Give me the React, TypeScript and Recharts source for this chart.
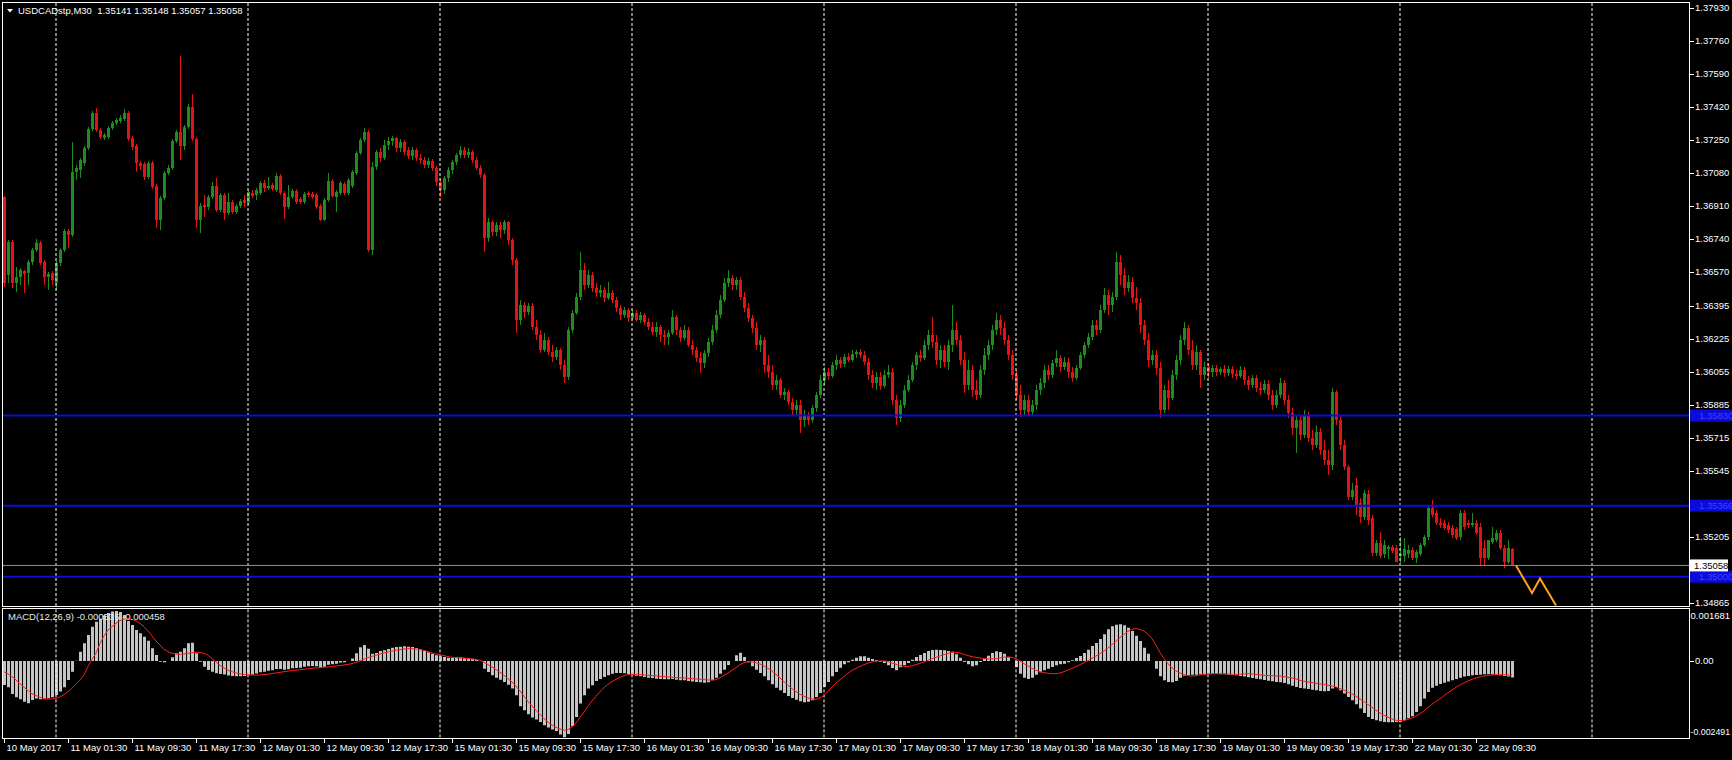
import React from "react";
import { ComposedChart, Bar, Line, XAxis, YAxis, ReferenceLine } from "recharts";

// USDCADstp M30 candles, bar 0 = 10 May 2017 17:30
const opens = [
  1.36955,1.36554,1.36724,1.36512,1.36543,1.36574,1.36564,1.36621,1.36683,1.36719,
  1.36621,1.36543,1.36564,1.36512,1.36616,1.36683,1.36780,1.36760,1.37084,1.37095,
  1.37131,1.37208,1.37306,1.37388,1.37300,1.37259,1.37264,1.37311,1.37337,1.37347,
  1.37357,1.37388,1.37259,1.37218,1.37131,1.37125,1.37058,1.37131,1.37012,1.36837,
  1.36950,1.37079,1.37105,1.37244,1.37290,1.37218,1.37316,1.37419,1.37254,1.36837,
  1.36914,1.36904,1.36955,1.37012,1.36889,1.36966,1.36873,1.36930,1.36878,1.36909,
  1.36940,1.36925,1.36976,1.36966,1.36976,1.37028,1.37002,1.37017,1.36992,1.37064,
  1.36976,1.36904,1.36955,1.36986,1.36945,1.36930,1.36976,1.36971,1.36966,1.36909,
  1.36837,1.36940,1.37038,1.36955,1.36976,1.37022,1.36976,1.37012,1.37079,1.37182,
  1.37249,1.37290,1.36683,1.37110,1.37187,1.37156,1.37223,1.37244,1.37259,1.37208,
  1.37239,1.37198,1.37167,1.37198,1.37156,1.37146,1.37120,1.37141,1.37105,1.37033,
  1.36992,1.37053,1.37095,1.37136,1.37172,1.37198,1.37172,1.37187,1.37146,1.37105,
  1.37069,1.36744,1.36827,1.36775,1.36811,1.36786,1.36827,1.36734,1.36631,1.36322,
  1.36399,1.36363,1.36394,1.36286,1.36245,1.36168,1.36219,1.36157,1.36131,1.36168,
  1.36090,1.36028,1.36271,1.36358,1.36440,1.36580,1.36502,1.36554,1.36487,1.36461,
  1.36477,1.36435,1.36461,1.36425,1.36384,1.36348,1.36374,1.36332,1.36358,1.36322,
  1.36348,1.36312,1.36286,1.36260,1.36286,1.36245,1.36234,1.36255,1.36337,1.36271,
  1.36229,1.36271,1.36193,1.36168,1.36126,1.36101,1.36152,1.36209,1.36271,1.36348,
  1.36425,1.36512,1.36538,1.36502,1.36528,1.36440,1.36384,1.36332,1.36281,1.36193,
  1.36219,1.36090,1.36054,1.35987,1.36013,1.35936,1.35951,1.35900,1.35859,1.35884,
  1.35807,1.35833,1.35807,1.35869,1.35936,1.36013,1.36054,1.36034,1.36090,1.36116,
  1.36095,1.36131,1.36116,1.36147,1.36157,1.36142,1.36106,1.36039,1.35998,1.36028,
  1.35982,1.36039,1.36054,1.35910,1.35817,1.35884,1.35962,1.36013,1.36090,1.36142,
  1.36126,1.36193,1.36245,1.36209,1.36116,1.36168,1.36106,1.36193,1.36271,1.36219,
  1.36116,1.35987,1.36065,1.35962,1.35936,1.36065,1.36142,1.36193,1.36271,1.36322,
  1.36281,1.36219,1.36142,1.36039,1.35936,1.35859,1.35910,1.35848,1.35884,1.35962,
  1.35998,1.36065,1.36039,1.36101,1.36126,1.36080,1.36106,1.36054,1.36023,1.36075,
  1.36142,1.36193,1.36234,1.36296,1.36271,1.36374,1.36451,1.36399,1.36440,1.36621,
  1.36554,1.36487,1.36518,1.36435,1.36410,1.36296,1.36219,1.36116,1.36142,1.36075,
  1.35859,1.35962,1.35920,1.36039,1.36116,1.36219,1.36281,1.36168,1.36090,1.36157,
  1.36039,1.36080,1.36054,1.36075,1.36054,1.36070,1.36049,1.36070,1.36044,1.36034,
  1.36065,1.36013,1.35987,1.36023,1.35972,1.35962,1.35992,1.35936,1.35884,1.35936,
  1.35998,1.35910,1.35843,1.35766,1.35807,1.35730,1.35833,1.35714,1.35678,1.35745,
  1.35653,1.35601,1.35575,1.35951,1.35807,1.35678,1.35565,1.35410,1.35472,1.35380,
  1.35308,1.35426,1.35303,1.35122,1.35174,1.35117,1.35143,1.35153,1.35148,1.35107,
  1.35107,1.35117,1.35138,1.35096,1.35117,1.35163,1.35205,1.35354,1.35328,1.35277,
  1.35277,1.35267,1.35251,1.35246,1.35205,1.35328,1.35277,1.35267,1.35277,1.35256,
  1.35148,1.35096,1.35179,1.35189,1.35225,1.35148,1.35076,1.35141,
];

const highs = [
  1.36961,1.36734,1.36734,1.36595,1.36590,1.36580,1.36631,1.36693,1.36739,1.36729,
  1.36631,1.36569,1.36574,1.36626,1.36693,1.36791,1.36791,1.37239,1.37120,1.37156,
  1.37218,1.37316,1.37398,1.37414,1.37311,1.37285,1.37321,1.37347,1.37362,1.37378,
  1.37409,1.37398,1.37270,1.37228,1.37141,1.37136,1.37141,1.37141,1.37022,1.36961,
  1.37089,1.37120,1.37254,1.37300,1.37682,1.37326,1.37434,1.37486,1.37264,1.36925,
  1.36966,1.36966,1.37033,1.37053,1.36976,1.36976,1.36976,1.36940,1.36919,1.36945,
  1.36966,1.36992,1.36992,1.37002,1.37038,1.37043,1.37058,1.37028,1.37079,1.37074,
  1.36986,1.37017,1.36997,1.36997,1.36955,1.36981,1.36986,1.36981,1.36976,1.36919,
  1.36950,1.37079,1.37048,1.36992,1.37038,1.37033,1.37053,1.37095,1.37192,1.37259,
  1.37311,1.37300,1.37136,1.37198,1.37208,1.37249,1.37264,1.37270,1.37264,1.37254,
  1.37249,1.37213,1.37213,1.37208,1.37177,1.37161,1.37156,1.37151,1.37115,1.37053,
  1.37064,1.37110,1.37146,1.37182,1.37218,1.37213,1.37208,1.37198,1.37161,1.37120,
  1.37079,1.36847,1.36837,1.36827,1.36827,1.36837,1.36832,1.36744,1.36641,1.36425,
  1.36415,1.36410,1.36410,1.36322,1.36271,1.36255,1.36234,1.36193,1.36183,1.36178,
  1.36116,1.36286,1.36374,1.36461,1.36672,1.36616,1.36580,1.36569,1.36512,1.36502,
  1.36492,1.36518,1.36477,1.36440,1.36399,1.36389,1.36384,1.36374,1.36374,1.36363,
  1.36358,1.36332,1.36312,1.36312,1.36296,1.36271,1.36271,1.36374,1.36348,1.36286,
  1.36296,1.36286,1.36219,1.36183,1.36157,1.36168,1.36229,1.36296,1.36374,1.36451,
  1.36538,1.36580,1.36554,1.36543,1.36543,1.36466,1.36410,1.36348,1.36312,1.36245,
  1.36234,1.36142,1.36090,1.36039,1.36023,1.35972,1.35962,1.35920,1.35910,1.35910,
  1.35859,1.35848,1.35884,1.35951,1.36039,1.36080,1.36075,1.36106,1.36142,1.36131,
  1.36147,1.36152,1.36168,1.36168,1.36173,1.36162,1.36126,1.36065,1.36054,1.36054,
  1.36065,1.36090,1.36075,1.35936,1.35910,1.35987,1.36039,1.36106,1.36157,1.36168,
  1.36219,1.36271,1.36337,1.36245,1.36193,1.36193,1.36219,1.36399,1.36312,1.36245,
  1.36157,1.36116,1.36090,1.36013,1.36090,1.36178,1.36219,1.36296,1.36358,1.36348,
  1.36312,1.36245,1.36168,1.36065,1.35987,1.35936,1.35936,1.35910,1.35987,1.36023,
  1.36090,1.36090,1.36116,1.36168,1.36142,1.36131,1.36126,1.36080,1.36090,1.36157,
  1.36209,1.36255,1.36322,1.36322,1.36399,1.36487,1.36477,1.36466,1.36672,1.36657,
  1.36590,1.36554,1.36543,1.36492,1.36435,1.36322,1.36255,1.36168,1.36168,1.36106,
  1.35987,1.36013,1.36065,1.36142,1.36245,1.36312,1.36296,1.36219,1.36193,1.36168,
  1.36106,1.36101,1.36090,1.36090,1.36080,1.36090,1.36085,1.36085,1.36065,1.36085,
  1.36080,1.36034,1.36039,1.36039,1.36003,1.36013,1.36013,1.35962,1.35962,1.36023,
  1.36013,1.35936,1.35869,1.35833,1.35833,1.35859,1.35848,1.35756,1.35781,1.35766,
  1.35704,1.35653,1.35972,1.35962,1.35833,1.35704,1.35575,1.35483,1.35508,1.35405,
  1.35447,1.35447,1.35318,1.35189,1.35230,1.35189,1.35163,1.35163,1.35163,1.35205,
  1.35200,1.35163,1.35153,1.35138,1.35174,1.35215,1.35369,1.35395,1.35344,1.35303,
  1.35292,1.35282,1.35267,1.35256,1.35344,1.35344,1.35292,1.35328,1.35292,1.35277,
  1.35189,1.35189,1.35256,1.35241,1.35241,1.35163,1.35189,1.35148,
];

const lows = [
  1.36492,1.36512,1.36487,1.36466,1.36502,1.36461,1.36502,1.36605,1.36672,1.36605,
  1.36502,1.36477,1.36502,1.36477,1.36600,1.36672,1.36693,1.36750,1.37043,1.37053,
  1.37115,1.37198,1.37295,1.37290,1.37254,1.37249,1.37254,1.37300,1.37326,1.37337,
  1.37347,1.37244,1.37198,1.37084,1.37095,1.37043,1.37048,1.36997,1.36796,1.36786,
  1.36940,1.37069,1.37095,1.37234,1.37146,1.37198,1.37306,1.37244,1.36796,1.36770,
  1.36852,1.36889,1.36945,1.36878,1.36878,1.36837,1.36863,1.36868,1.36868,1.36899,
  1.36904,1.36914,1.36950,1.36940,1.36966,1.36981,1.36992,1.36986,1.36981,1.36966,
  1.36842,1.36894,1.36945,1.36919,1.36919,1.36919,1.36955,1.36945,1.36894,1.36832,
  1.36832,1.36930,1.36950,1.36878,1.36966,1.36966,1.36966,1.37002,1.37069,1.37172,
  1.37239,1.36672,1.36657,1.37095,1.37136,1.37146,1.37198,1.37218,1.37187,1.37187,
  1.37172,1.37151,1.37146,1.37141,1.37125,1.37105,1.37105,1.37089,1.37012,1.36955,
  1.36971,1.37033,1.37074,1.37120,1.37156,1.37156,1.37156,1.37131,1.37095,1.37053,
  1.36672,1.36724,1.36755,1.36755,1.36744,1.36765,1.36708,1.36605,1.36255,1.36296,
  1.36332,1.36348,1.36271,1.36219,1.36152,1.36157,1.36142,1.36106,1.36116,1.36065,
  1.35998,1.36013,1.36255,1.36348,1.36425,1.36477,1.36487,1.36466,1.36440,1.36440,
  1.36415,1.36425,1.36410,1.36363,1.36322,1.36332,1.36312,1.36322,1.36312,1.36307,
  1.36296,1.36271,1.36245,1.36234,1.36209,1.36193,1.36193,1.36245,1.36245,1.36209,
  1.36219,1.36183,1.36142,1.36106,1.36049,1.36075,1.36131,1.36193,1.36255,1.36332,
  1.36415,1.36492,1.36477,1.36477,1.36425,1.36363,1.36312,1.36255,1.36168,1.36157,
  1.36049,1.36023,1.35962,1.35962,1.35920,1.35910,1.35884,1.35833,1.35833,1.35740,
  1.35771,1.35781,1.35792,1.35848,1.35920,1.35987,1.36013,1.36023,1.36065,1.36075,
  1.36080,1.36106,1.36106,1.36126,1.36126,1.36090,1.36013,1.35972,1.35962,1.35962,
  1.35972,1.36023,1.35884,1.35781,1.35797,1.35869,1.35951,1.36003,1.36065,1.36106,
  1.36116,1.36168,1.36178,1.36090,1.36075,1.36080,1.36065,1.36157,1.36193,1.36090,
  1.35946,1.35962,1.35926,1.35910,1.35920,1.36039,1.36116,1.36168,1.36245,1.36245,
  1.36193,1.36116,1.36013,1.35910,1.35822,1.35833,1.35828,1.35833,1.35859,1.35936,
  1.35972,1.36013,1.36023,1.36080,1.36054,1.36065,1.36023,1.36003,1.36013,1.36065,
  1.36126,1.36178,1.36219,1.36245,1.36255,1.36358,1.36348,1.36363,1.36425,1.36502,
  1.36451,1.36466,1.36410,1.36374,1.36255,1.36193,1.36080,1.36090,1.36039,1.35817,
  1.35843,1.35859,1.35910,1.36013,1.36090,1.36193,1.36142,1.36065,1.36065,1.35972,
  1.36013,1.36023,1.36028,1.36034,1.36039,1.36028,1.36034,1.36023,1.36013,1.36023,
  1.35987,1.35962,1.35972,1.35951,1.35936,1.35946,1.35910,1.35859,1.35869,1.35920,
  1.35884,1.35817,1.35730,1.35637,1.35704,1.35714,1.35694,1.35653,1.35663,1.35627,
  1.35575,1.35524,1.35550,1.35781,1.35653,1.35550,1.35395,1.35395,1.35318,1.35277,
  1.35292,1.35267,1.35107,1.35107,1.35096,1.35096,1.35091,1.35122,1.35076,1.35071,
  1.35076,1.35096,1.35086,1.35071,1.35107,1.35153,1.35189,1.35308,1.35267,1.35251,
  1.35241,1.35225,1.35200,1.35189,1.35189,1.35241,1.35251,1.35256,1.35215,1.35060,
  1.35060,1.35086,1.35169,1.35179,1.35138,1.35045,1.35066,1.35057,
];

const closes = [
  1.36512,1.36724,1.36512,1.36543,1.36580,1.36559,1.36621,1.36683,1.36719,1.36616,
  1.36543,1.36559,1.36528,1.36616,1.36683,1.36780,1.36760,1.37084,1.37105,1.37146,
  1.37208,1.37306,1.37388,1.37300,1.37264,1.37275,1.37311,1.37337,1.37352,1.37362,
  1.37388,1.37254,1.37213,1.37131,1.37115,1.37058,1.37131,1.37007,1.36837,1.36950,
  1.37079,1.37105,1.37244,1.37290,1.37218,1.37316,1.37419,1.37254,1.36837,1.36909,
  1.36904,1.36955,1.37012,1.36889,1.36966,1.36873,1.36930,1.36878,1.36909,1.36935,
  1.36925,1.36981,1.36961,1.36992,1.37028,1.37002,1.37012,1.36997,1.37064,1.36976,
  1.36904,1.36955,1.36986,1.36930,1.36930,1.36971,1.36966,1.36955,1.36904,1.36837,
  1.36940,1.37038,1.36961,1.36981,1.37028,1.36976,1.37043,1.37084,1.37182,1.37249,
  1.37290,1.36683,1.37110,1.37187,1.37156,1.37223,1.37244,1.37259,1.37208,1.37239,
  1.37187,1.37167,1.37198,1.37156,1.37146,1.37120,1.37141,1.37105,1.37033,1.36992,
  1.37053,1.37095,1.37136,1.37172,1.37198,1.37172,1.37187,1.37146,1.37105,1.37069,
  1.36744,1.36827,1.36775,1.36811,1.36786,1.36827,1.36734,1.36631,1.36322,1.36399,
  1.36363,1.36394,1.36286,1.36245,1.36168,1.36219,1.36157,1.36131,1.36168,1.36090,
  1.36028,1.36271,1.36358,1.36440,1.36580,1.36502,1.36554,1.36487,1.36461,1.36477,
  1.36435,1.36461,1.36425,1.36384,1.36348,1.36374,1.36332,1.36358,1.36322,1.36348,
  1.36312,1.36286,1.36260,1.36286,1.36245,1.36234,1.36255,1.36337,1.36271,1.36229,
  1.36271,1.36193,1.36168,1.36126,1.36101,1.36152,1.36209,1.36271,1.36348,1.36425,
  1.36512,1.36538,1.36502,1.36528,1.36440,1.36384,1.36332,1.36281,1.36193,1.36219,
  1.36090,1.36054,1.35987,1.36013,1.35936,1.35951,1.35900,1.35859,1.35884,1.35807,
  1.35833,1.35807,1.35869,1.35936,1.36013,1.36054,1.36034,1.36090,1.36116,1.36095,
  1.36131,1.36116,1.36147,1.36157,1.36142,1.36106,1.36039,1.35998,1.36028,1.35982,
  1.36039,1.36054,1.35910,1.35817,1.35884,1.35962,1.36013,1.36090,1.36142,1.36126,
  1.36193,1.36245,1.36209,1.36116,1.36168,1.36106,1.36193,1.36271,1.36219,1.36116,
  1.35987,1.36065,1.35962,1.35936,1.36065,1.36142,1.36193,1.36271,1.36322,1.36281,
  1.36219,1.36142,1.36039,1.35936,1.35859,1.35910,1.35848,1.35884,1.35962,1.35998,
  1.36065,1.36039,1.36101,1.36126,1.36080,1.36106,1.36054,1.36023,1.36075,1.36142,
  1.36193,1.36234,1.36296,1.36271,1.36374,1.36451,1.36399,1.36440,1.36621,1.36554,
  1.36487,1.36518,1.36435,1.36410,1.36296,1.36219,1.36116,1.36142,1.36075,1.35859,
  1.35962,1.35920,1.36039,1.36116,1.36219,1.36281,1.36168,1.36090,1.36157,1.36039,
  1.36080,1.36054,1.36075,1.36054,1.36070,1.36049,1.36070,1.36044,1.36034,1.36065,
  1.36013,1.35987,1.36023,1.35972,1.35962,1.35992,1.35936,1.35884,1.35936,1.35998,
  1.35910,1.35843,1.35766,1.35807,1.35730,1.35833,1.35714,1.35678,1.35745,1.35653,
  1.35601,1.35575,1.35951,1.35807,1.35678,1.35565,1.35410,1.35447,1.35369,1.35308,
  1.35431,1.35292,1.35122,1.35174,1.35107,1.35163,1.35153,1.35132,1.35076,1.35117,
  1.35143,1.35138,1.35096,1.35127,1.35163,1.35205,1.35354,1.35318,1.35277,1.35267,
  1.35251,1.35241,1.35215,1.35200,1.35328,1.35256,1.35267,1.35277,1.35225,1.35096,
  1.35096,1.35189,1.35200,1.35225,1.35148,1.35076,1.35148,1.35058,
];

// MACD(12,26,9), in millionths
const macdMain = [
  -782,-858,-1075,-1184,-1249,-1325,-1379,-1271,-1227,-1249,
  -1249,-1216,-1184,-1108,-999,-858,-619,-348,11,304,
  576,847,1119,1282,1380,1480,1560,1610,1625,1600,
  1500,1300,1173,1010,901,793,662,413,195,-22,
  -43,0,119,250,304,413,576,597,250,-22,
  -185,-293,-348,-402,-424,-440,-470,-490,-500,-500,
  -490,-460,-440,-410,-370,-350,-320,-300,-260,-260,
  -290,-270,-240,-230,-220,-190,-170,-160,-170,-210,
  -190,-120,-110,-90,-50,-40,0,80,250,450,
  521,402,239,261,326,348,391,434,456,467,
  478,467,456,424,380,326,282,239,185,152,
  130,109,109,119,119,109,98,76,43,0,
  -250,-358,-467,-543,-608,-684,-771,-901,-1119,-1477,
  -1607,-1738,-1846,-1911,-1987,-2096,-2172,-2237,-2281,-2400,
  -2491,-2380,-2129,-1824,-1390,-1119,-901,-793,-652,-586,
  -521,-467,-413,-391,-391,-402,-424,-445,-478,-500,
  -521,-543,-554,-576,-586,-597,-597,-586,-608,-630,
  -630,-652,-673,-684,-695,-706,-695,-630,-543,-413,
  -282,-130,0,185,272,130,-43,-174,-282,-391,
  -500,-630,-760,-869,-956,-1043,-1140,-1205,-1260,-1314,
  -1347,-1325,-1281,-1173,-1043,-847,-684,-500,-358,-217,
  -109,-43,43,109,152,152,109,65,22,-22,
  -65,-141,-228,-304,-206,-141,-65,43,130,195,
  261,326,358,369,358,348,326,304,217,109,
  -33,-109,-174,-141,-33,76,174,261,315,293,
  239,130,0,-195,-413,-543,-586,-543,-445,-369,
  -304,-250,-195,-141,-109,-87,-43,22,98,163,
  261,369,489,586,717,869,1032,1129,1184,1195,
  1162,1086,977,825,652,434,239,0,-250,-500,
  -630,-684,-695,-652,-543,-478,-456,-445,-445,-434,
  -434,-434,-424,-424,-434,-434,-445,-456,-467,-489,
  -510,-532,-554,-576,-597,-619,-641,-662,-684,-695,
  -717,-760,-804,-847,-880,-901,-912,-934,-956,-977,
  -988,-977,-901,-847,-956,-1064,-1173,-1281,-1412,-1553,
  -1694,-1824,-1890,-1933,-1966,-1987,-1998,-1998,-1987,-1977,
  -1933,-1868,-1803,-1662,-1477,-1227,-1010,-869,-804,-749,
  -706,-673,-630,-586,-543,-510,-489,-467,-456,-445,
  -434,-434,-434,-445,-467,-489,-510,-535,
];

const macdSignal = [
  -348,-424,-510,-619,-749,-858,-967,-1064,-1129,-1184,
  -1216,-1238,-1238,-1216,-1173,-1097,-1010,-891,-749,-619,
  -456,-185,54,250,576,815,1010,1119,1227,1314,
  1368,1390,1358,1303,1227,1119,977,815,652,521,
  380,304,250,228,217,228,250,272,282,282,
  250,185,76,-33,-141,-230,-300,-350,-390,-420,
  -440,-455,-460,-460,-455,-445,-430,-410,-390,-370,
  -350,-330,-315,-300,-285,-270,-255,-240,-225,-215,
  -205,-195,-180,-165,-150,-130,-110,-85,-50,10,
  54,109,152,185,228,261,293,326,348,369,
  391,402,402,391,369,348,304,261,228,195,
  174,141,119,109,98,87,76,65,43,22,
  -43,-119,-195,-282,-369,-467,-576,-684,-825,-977,
  -1151,-1314,-1466,-1607,-1748,-1879,-1998,-2085,-2161,-2216,
  -2259,-2237,-2150,-2020,-1846,-1662,-1477,-1303,-1151,-999,
  -869,-760,-673,-597,-532,-478,-445,-434,-434,-445,
  -456,-467,-478,-489,-500,-510,-521,-532,-543,-543,
  -554,-565,-576,-586,-597,-608,-619,-619,-608,-543,
  -467,-391,-304,-217,-119,-54,-22,-33,-54,-98,
  -163,-239,-326,-434,-554,-673,-793,-901,-999,-1086,
  -1151,-1205,-1238,-1249,-1205,-1119,-988,-847,-717,-608,
  -500,-391,-304,-239,-174,-119,-65,-33,-11,0,
  0,-22,-65,-109,-152,-174,-185,-152,-119,-76,
  -33,22,76,119,163,206,250,282,282,261,
  217,174,141,119,98,76,65,65,76,98,
  119,130,119,65,0,-87,-163,-239,-304,-348,
  -380,-402,-413,-413,-391,-348,-293,-239,-185,-119,
  -54,11,87,163,239,326,424,532,641,760,
  869,967,1032,1053,1032,977,869,728,510,272,
  76,-87,-228,-326,-391,-445,-478,-489,-478,-456,
  -434,-424,-413,-413,-413,-413,-424,-434,-434,-434,
  -424,-413,-424,-434,-456,-467,-478,-478,-489,-489,
  -510,-532,-554,-586,-630,-662,-684,-706,-728,-749,
  -760,-793,-815,-847,-901,-956,-1021,-1075,-1151,-1238,
  -1325,-1423,-1510,-1607,-1694,-1770,-1835,-1890,-1933,-1944,
  -1933,-1901,-1857,-1792,-1716,-1629,-1520,-1412,-1314,-1227,
  -1129,-1032,-945,-858,-782,-717,-652,-597,-554,-521,
  -489,-467,-456,-445,-445,-445,-456,-458,
];

// orange zigzag drawn past the last bar
const zigzagBars = [378, 382, 384, 388];
const zigzagPrices = [1.35058, 1.34916, 1.34991, 1.34852];

const priceTicks = [
  1.3793, 1.3776, 1.3759, 1.3742, 1.3725, 1.3708, 1.3691, 1.3674, 1.3657,
  1.36395, 1.36225, 1.36055, 1.35885, 1.35715, 1.35545, 1.35205, 1.34865,
];
const levelLines = [1.3583, 1.35366, 1.35];
const bidPrice = 1.35058;
const macdTicks = [0.001681, 0, -0.002491];

const timeLabels = [
  "10 May 2017", "11 May 01:30", "11 May 09:30", "11 May 17:30", "12 May 01:30",
  "12 May 09:30", "12 May 17:30", "15 May 01:30", "15 May 09:30", "15 May 17:30",
  "16 May 01:30", "16 May 09:30", "16 May 17:30", "17 May 01:30", "17 May 09:30",
  "17 May 17:30", "18 May 01:30", "18 May 09:30", "18 May 17:30", "19 May 01:30",
  "19 May 09:30", "19 May 17:30", "22 May 01:30", "22 May 09:30",
];
const timeTickBars = [
  0, 16, 32, 48, 64, 80, 96, 112, 128, 144, 160, 176,
  192, 208, 224, 240, 256, 272, 288, 304, 320, 336, 352, 368,
];
const gridBars = [13, 61, 109, 157, 205, 253, 301, 349, 397];

const SLOTS = 422;
const W = 1732;
const H = 760;
const LEFT = 2;
const AXIS_W = 42;
const FONT = "'Liberation Sans', Arial, sans-serif";
const BULL = "#1e8c1e";
const BEAR = "#e31414";

const rows = Array.from({ length: SLOTS }, (_, i) => {
  const has = i < closes.length;
  const z = zigzagBars.indexOf(i);
  return {
    i,
    o: has ? opens[i] : undefined,
    h: has ? highs[i] : undefined,
    l: has ? lows[i] : undefined,
    c: has ? closes[i] : undefined,
    range: has ? [lows[i], highs[i]] : undefined,
    macd: has ? macdMain[i] / 1e6 : undefined,
    signal: has ? macdSignal[i] / 1e6 : undefined,
    zz: z >= 0 ? zigzagPrices[z] : undefined,
  };
});

function Candle(props: any) {
  const { x, y, width, height, payload } = props;
  if (!payload || payload.o == null || !isFinite(y) || !isFinite(height)) return null;
  const top = Math.min(y, y + height);
  const bottom = Math.max(y, y + height);
  const span = payload.h - payload.l;
  const toY = (v: number) => (span > 0 ? top + ((payload.h - v) / span) * (bottom - top) : top);
  const yo = toY(payload.o);
  const yc = toY(payload.c);
  const color = payload.c >= payload.o ? BULL : BEAR;
  const cx = Math.floor(x + width / 2) + 0.5;
  const bTop = Math.min(yo, yc);
  const bH = Math.max(1, Math.abs(yc - yo));
  return (
    <g>
      <line x1={cx} x2={cx} y1={top} y2={bottom} stroke={color} strokeWidth={1} shapeRendering="crispEdges" />
      <rect x={cx - 1.5} y={bTop} width={3} height={bH} fill={color} shapeRendering="crispEdges" />
    </g>
  );
}

function PriceTick(props: any) {
  const { x, y, payload } = props;
  const v = payload.value;
  const txt = v.toFixed(5);
  if (levelLines.includes(v)) {
    return (
      <g>
        <rect x={x} y={y - 6} width={AXIS_W} height={12} fill="#0b0bdc" />
        <text x={x + 9} y={y + 3.5} fill="#4040ff" fontSize={9.5} fontFamily={FONT}>{txt}</text>
      </g>
    );
  }
  if (v === bidPrice) {
    return (
      <g>
        <rect x={x} y={y - 6} width={38} height={12} fill="#ffffff" />
        <text x={x + 4} y={y + 3.5} fill="#000000" fontSize={9.5} fontFamily={FONT}>{txt}</text>
      </g>
    );
  }
  return (
    <g>
      <line x1={x} x2={x + 4} y1={y + 0.5} y2={y + 0.5} stroke="#ffffff" shapeRendering="crispEdges" />
      <text x={x + 5} y={y + 3.5} fill="#ffffff" fontSize={9.5} fontFamily={FONT}>{txt}</text>
    </g>
  );
}

function MacdTick(props: any) {
  const { x, y, payload } = props;
  const v = payload.value;
  if (v === 0) {
    return (
      <g>
        <line x1={x} x2={x + 4} y1={y + 0.5} y2={y + 0.5} stroke="#ffffff" shapeRendering="crispEdges" />
        <text x={x + 5} y={y + 3.5} fill="#ffffff" fontSize={9.5} fontFamily={FONT}>0.00</text>
      </g>
    );
  }
  return (
    <text x={x + 0.5} y={v > 0 ? y + 10 : y - 2} fill="#ffffff" fontSize={v > 0 ? 9.5 : 8.8} fontFamily={FONT}>
      {v.toFixed(6)}
    </text>
  );
}

function TimeTick(props: any) {
  const { x, y, payload } = props;
  const k = timeTickBars.indexOf(payload.value);
  if (k < 0) return null;
  const tx = Math.floor(x) + 0.5;
  return (
    <g>
      <line x1={tx} x2={tx} y1={y + 1.5} y2={y + 6} stroke="#ffffff" shapeRendering="crispEdges" />
      <text x={tx + 2} y={y + 14} fill="#ffffff" fontSize={9.5} fontFamily={FONT}>{timeLabels[k]}</text>
    </g>
  );
}

export default function App() {
  return (
    <div style={{ position: "relative", width: W, height: H, background: "#000", overflow: "hidden" }}>
      <style>{"html,body{margin:0;padding:0;background:#000}"}</style>

      <div style={{ position: "absolute", left: 0, top: 0 }}>
        <ComposedChart width={W} height={608} data={rows} margin={{ top: 3, right: 0, bottom: 2, left: LEFT }}>
          <XAxis dataKey="i" type="category" hide />
          <YAxis
            orientation="right"
            type="number"
            width={AXIS_W}
            domain={[1.34849, 1.37955]}
            allowDataOverflow
            ticks={[...priceTicks, ...levelLines, bidPrice]}
            interval={0}
            tickSize={0}
            tickMargin={0}
            axisLine={false}
            tickLine={false}
            tick={(p: any) => <PriceTick {...p} />}
          />
          {gridBars.map((b) => (
            <ReferenceLine key={"g" + b} x={b} stroke="#ffffff" strokeDasharray="3 2" />
          ))}
          <Bar dataKey="range" barSize={3} shape={(p: any) => <Candle {...p} />} isAnimationActive={false} />
          {levelLines.map((v) => (
            <ReferenceLine key={"l" + v} y={v} stroke="#0b0bdc" strokeWidth={2} />
          ))}
          <ReferenceLine y={bidPrice} stroke="#909090" />
          <Line
            dataKey="zz"
            stroke="#ffa31a"
            strokeWidth={2}
            dot={false}
            connectNulls
            type="linear"
            isAnimationActive={false}
          />
        </ComposedChart>
      </div>

      <div style={{ position: "absolute", left: 0, top: 607 }}>
        <ComposedChart width={W} height={153} data={rows} margin={{ top: 2.4, right: 0, bottom: 0, left: LEFT }}>
          <XAxis
            dataKey="i"
            type="category"
            ticks={timeTickBars}
            interval={0}
            height={22.6}
            tickSize={0}
            tickMargin={0}
            axisLine={false}
            tickLine={false}
            tick={(p: any) => <TimeTick {...p} />}
          />
          <YAxis
            orientation="right"
            type="number"
            width={AXIS_W}
            domain={[-0.002491, 0.001681]}
            allowDataOverflow
            ticks={macdTicks}
            interval={0}
            tickSize={0}
            tickMargin={0}
            axisLine={false}
            tickLine={false}
            tick={(p: any) => <MacdTick {...p} />}
          />
          {gridBars.map((b) => (
            <ReferenceLine key={"mg" + b} x={b} stroke="#ffffff" strokeDasharray="3 2" />
          ))}
          <Bar dataKey="macd" fill="#c4c4c4" barSize={3} isAnimationActive={false} />
          <Line dataKey="signal" stroke="#ff1a1a" strokeWidth={1} dot={false} type="linear" isAnimationActive={false} />
        </ComposedChart>
      </div>

      <svg width={W} height={H} style={{ position: "absolute", left: 0, top: 0, pointerEvents: "none" }}>
        <rect x={2.5} y={2.5} width={1687} height={603.5} fill="none" stroke="#ffffff" shapeRendering="crispEdges" />
        <rect x={2.5} y={608.5} width={1687} height={130} fill="none" stroke="#ffffff" shapeRendering="crispEdges" />
        <polygon points="7,9 13,9 10,12.5" fill="#ffffff" />
        <text x={18} y={14} fill="#ffffff" fontSize={9.5} fontFamily={FONT} style={{ whiteSpace: "pre" }}>
          {"USDCADstp,M30  1.35141 1.35148 1.35057 1.35058"}
        </text>
        <text x={8} y={620} fill="#e8e8e8" fontSize={9.5} fontFamily={FONT} style={{ whiteSpace: "pre" }}>
          {"MACD(12,26,9) -0.000535 -0.000458"}
        </text>
      </svg>
    </div>
  );
}
